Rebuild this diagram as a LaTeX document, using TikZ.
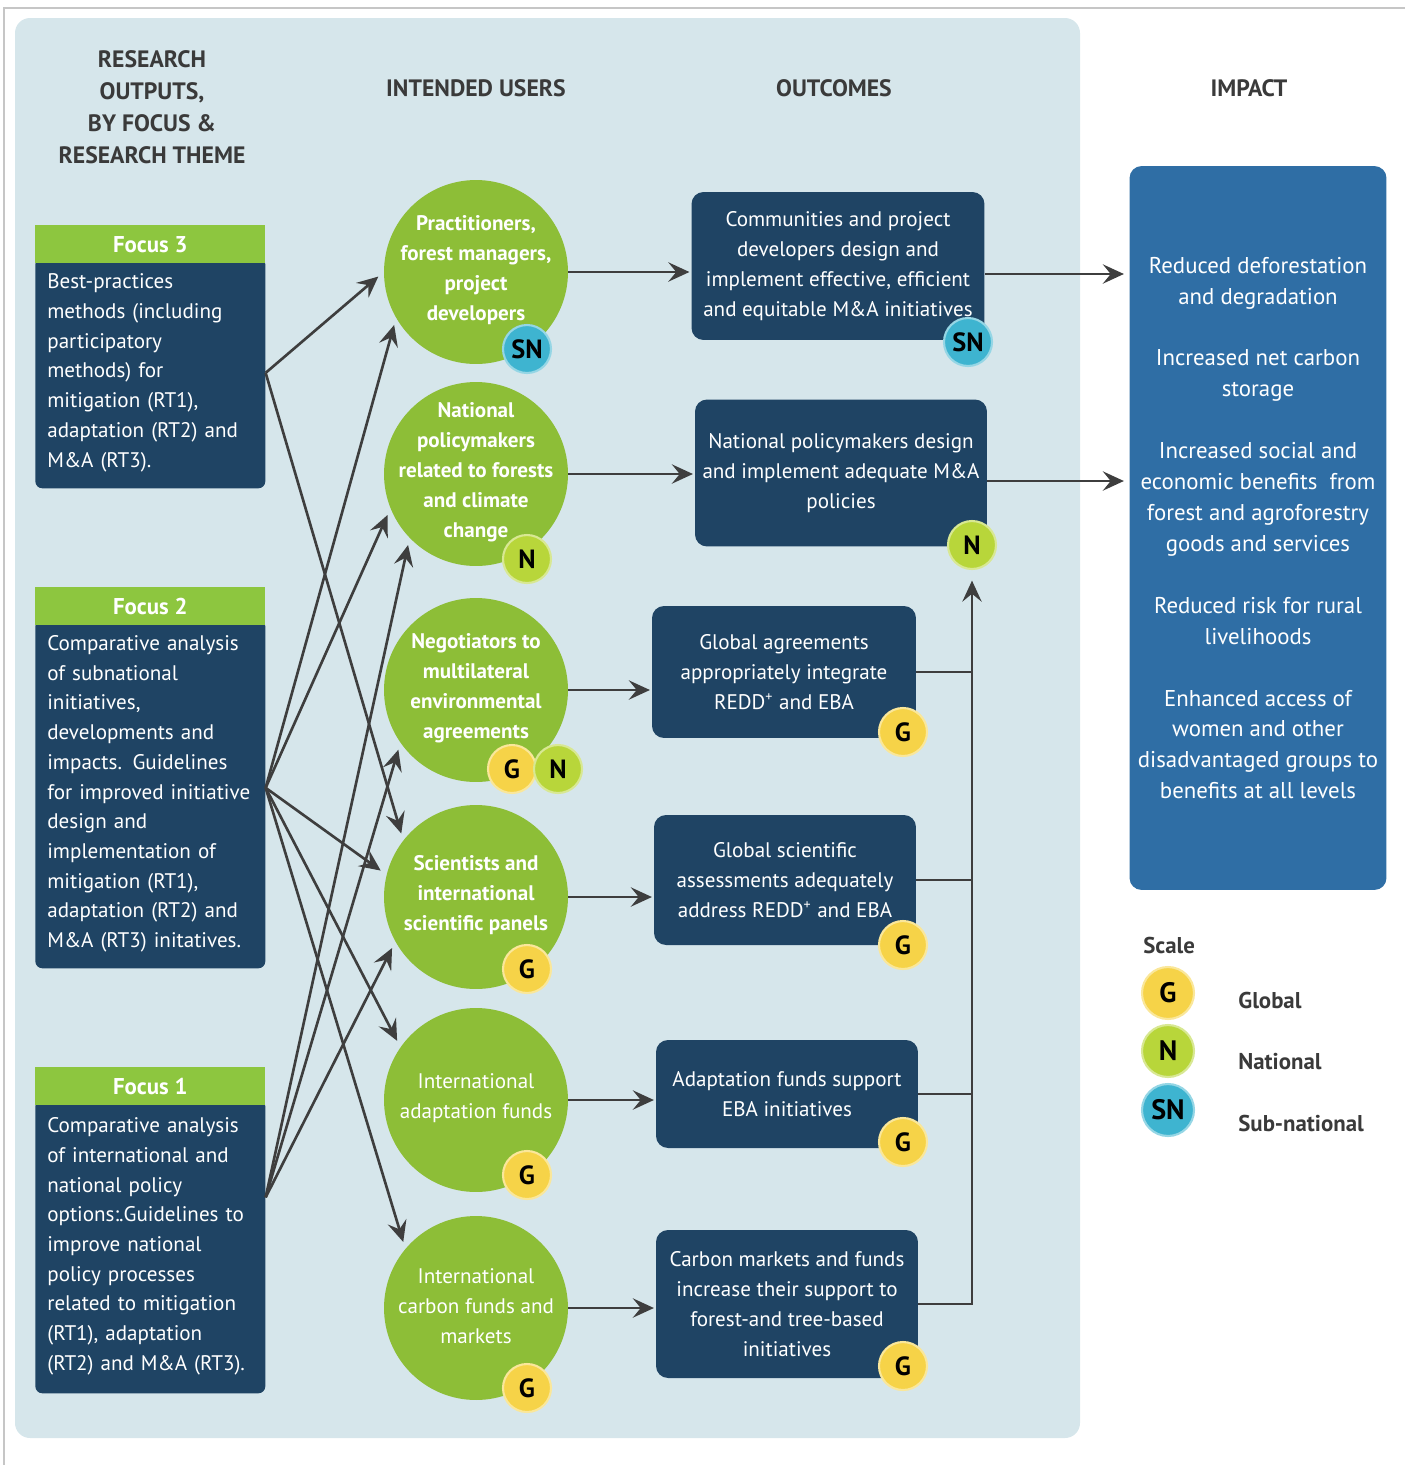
\documentclass[tikz,border=0pt]{standalone}
\usepackage{fontspec}
\setmainfont{PT Sans}
\usetikzlibrary{arrows.meta,positioning}

\definecolor{panel}{RGB}{214,230,235}
\definecolor{navy}{RGB}{31,68,100}
\definecolor{leaf}{RGB}{141,198,63}
\definecolor{usergreen}{RGB}{141,190,55}
\definecolor{impblue}{RGB}{47,110,165}
\definecolor{scaleG}{RGB}{246,211,72}
\definecolor{scaleN}{RGB}{184,214,58}
\definecolor{scaleSN}{RGB}{62,180,208}
\definecolor{inkgray}{RGB}{58,58,58}
\definecolor{arrowgray}{RGB}{62,62,62}

\newcommand{\usrfont}{\fontsize{12}{17}\selectfont}

\begin{document}
\begin{tikzpicture}[x=0.02cm, y=-0.02cm, >={Stealth[length=12pt,width=11pt,inset=4.5pt]}]
    \tikzstyle{heading}=[font=\fontsize{13.5}{18.2}\selectfont\bfseries, text=inkgray, align=center, inner sep=0pt]
    \tikzstyle{focus head}=[rectangle, fill=leaf, anchor=north west, minimum width=4.6cm, minimum height=0.76cm, inner sep=0pt, text=white, font=\fontsize{13}{15}\selectfont\bfseries]
    \tikzstyle{focus body}=[rectangle, rounded corners=0.14cm, fill=navy, anchor=north west, text width=4.12cm, inner xsep=0.24cm, inner ysep=0pt, align=left, text=white, font=\fontsize{12}{16.9}\selectfont]
    \tikzstyle{user}=[circle, fill=usergreen, minimum size=3.68cm, inner sep=0pt]
    \tikzstyle{user text}=[align=center, text=white, inner sep=0pt]
    \tikzstyle{outcome}=[rectangle, rounded corners=0.24cm, fill=navy, align=center, text=white, inner sep=0pt, font=\fontsize{12}{17}\selectfont]
    \tikzstyle{impact}=[rectangle, rounded corners=0.24cm, fill=impblue, align=center, text=white, inner sep=0pt, minimum width=5.14cm, minimum height=14.48cm, font=\fontsize{13}{17.6}\selectfont]
    \tikzstyle{badge}=[circle, minimum size=0.96cm, inner sep=0pt, line width=1.2pt, font=\fontsize{15}{15}\selectfont\bfseries, text=black]
    \tikzstyle{badge G}=[badge, fill=scaleG, draw=scaleG!55!white]
    \tikzstyle{badge N}=[badge, fill=scaleN, draw=scaleN!55!white]
    \tikzstyle{badge SN}=[badge, fill=scaleSN, draw=scaleSN!55!white]
    \tikzstyle{legend}=[anchor=west, inner sep=0pt, text=inkgray, font=\fontsize{13}{15}\selectfont\bfseries]
    \tikzstyle{link}=[->, draw=arrowgray, line width=1.5pt, shorten >=4pt]
    \tikzstyle{bus}=[draw=arrowgray, line width=1.2pt]

    \useasboundingbox (0,0) rectangle (1405,1465);
    \draw[gray!45, line width=0.8pt] (4,1465) |- (1405,8);
    \fill[panel, rounded corners=0.3cm] (15,18) rectangle (1080,1438);

    % Column headings
    \node[heading] (h-out) at (152,107) {RESEARCH\\ OUTPUTS,\\ BY FOCUS \&\\ RESEARCH THEME};
    \node[heading] (h-users) at (476,88) {INTENDED USERS};
    \node[heading] (h-outc) at (834,88) {OUTCOMES};
    \node[heading] (h-imp) at (1249,88) {IMPACT};

    % Research outputs by focus
    \node[focus body, minimum height=4.62cm] (F-3) at (35,257)
        {Best-practices\\ methods (including\\ participatory\\ methods) for\\ mitigation (RT1),\\ adaptation (RT2) and\\ M\&A (RT3).};
    \node[focus head] (F-3h) at (35,225) {Focus 3};
    \node[focus body, minimum height=6.98cm] (F-2) at (35,619)
        {Comparative analysis\\ of subnational\\ initiatives,\\ developments and\\ impacts. Guidelines\\ for improved initiative\\ design and\\ implementation of\\ mitigation (RT1),\\ adaptation (RT2) and\\ M\&A (RT3) initatives.};
    \node[focus head] (F-2h) at (35,587) {Focus 2};
    \node[focus body, minimum height=5.88cm] (F-1) at (35,1099)
        {Comparative analysis\\ of international and\\ national policy\\ options:.Guidelines to\\ improve national\\ policy processes\\ related to mitigation\\ (RT1), adaptation\\ (RT2) and M\&A (RT3).};
    \node[focus head] (F-1h) at (35,1067) {Focus 1};

    \coordinate (F-3o) at (F-3.east);
    \coordinate (F-2o) at ([yshift=0.12cm]F-2.east);
    \coordinate (F-1o) at ([yshift=0.98cm]F-1.east);

    % Intended users
    \foreach \name/\y/\wt/\txt in {
        1/272/\bfseries/{Practitioners,\\ forest managers,\\ project\\ developers},
        2/474/\bfseries/{National\\ policymakers\\ related to forests\\ and climate\\ change},
        3/690/\bfseries/{Negotiators to\\ multilateral\\ environmental\\ agreements},
        4/897/\bfseries/{Scientists and\\ international\\ scientific panels},
        5/1100/\mdseries/{International\\ adaptation funds},
        6/1308/\mdseries/{International\\ carbon funds and\\ markets}}
    {
        \node[user] (U-\name) at (476,\y) {};
        \node[user text, font=\usrfont\wt] (U-\name-t) at ([yshift=0.04cm]U-\name) {\txt};
    }

    \node[badge SN] (U-1s) at (527,349) {SN};
    \node[badge N] (U-2n) at (527,559) {N};
    \node[badge G] (U-3g) at (512,769) {G};
    \node[badge N] (U-3n) at (558,769) {N};
    \node[badge G] (U-4g) at (527,969) {G};
    \node[badge G] (U-5g) at (527,1175) {G};
    \node[badge G] (U-6g) at (527,1388) {G};

    % Outcomes
    \node[outcome, minimum width=5.86cm, minimum height=2.96cm] (O-1) at (838,266)
        {Communities and project\\ developers design and\\ implement effective, efficient\\ and equitable M\&A initiatives};
    \node[outcome, minimum width=5.84cm, minimum height=2.94cm] (O-2) at (841,473)
        {National policymakers design\\ and implement adequate M\&A\\ policies};
    \node[outcome, minimum width=5.28cm, minimum height=2.64cm] (O-3) at (784,672)
        {Global agreements\\ appropriately integrate\\ REDD\textsuperscript{+} and EBA};
    \node[outcome, minimum width=5.24cm, minimum height=2.6cm] (O-4) at (785,880)
        {Global scientific\\ assessments adequately\\ address REDD\textsuperscript{+} and EBA};
    \node[outcome, minimum width=5.24cm, minimum height=2.16cm] (O-5) at (787,1094)
        {Adaptation funds support\\ EBA initiatives};
    \node[outcome, minimum width=5.24cm, minimum height=2.96cm] (O-6) at (787,1304)
        {Carbon markets and funds\\ increase their support to\\ forest-and tree-based\\ initiatives};

    \node[badge SN] (O-1s) at (968,342) {SN};
    \node[badge N] (O-2n) at (972,545) {N};
    \node[badge G] (O-3g) at (903,732) {G};
    \node[badge G] (O-4g) at (903,945) {G};
    \node[badge G] (O-5g) at (903,1142) {G};
    \node[badge G] (O-6g) at (903,1366) {G};

    % Impact
    \node[impact] (Imp) at (1258,528)
        {Reduced deforestation\\ and degradation\\[17.6pt]
         Increased net carbon\\ storage\\[17.6pt]
         Increased social and\\ economic benefits\ \ from\\ forest and agroforestry\\ goods and services\\[17.6pt]
         Reduced risk for rural\\ livelihoods\\[17.6pt]
         Enhanced access of\\ women and other\\ disadvantaged groups to\\ benefits at all levels};

    % Scale legend
    \node[legend] (L-t) at (1143,945) {Scale};
    \node[badge G, minimum size=1.04cm, font=\fontsize{16}{16}\selectfont\bfseries] (L-g) at (1168,993) {G};
    \node[badge N, minimum size=1.04cm, font=\fontsize{16}{16}\selectfont\bfseries] (L-n) at (1168,1051) {N};
    \node[badge SN, minimum size=1.04cm, font=\fontsize{16}{16}\selectfont\bfseries] (L-sn) at (1168,1110) {SN};
    \node[legend] (L-gt) at (1238,1000) {Global};
    \node[legend] (L-nt) at (1238,1062) {National};
    \node[legend] (L-snt) at (1238,1123) {Sub-national};

    % Research outputs feed the intended users
    \foreach \source/\dest in {F-3o/U-1.180, F-3o/U-4.142,
                               F-2o/U-1.210, F-2o/U-2.202, F-2o/U-4.166, F-2o/U-5.145, F-2o/U-6.140,
                               F-1o/U-2.224, F-1o/U-3.215, F-1o/U-4.209}
        \draw[link] (\source) -- (\dest);

    % Users lead to outcomes
    \foreach \i in {1,...,6}
        \draw[link, shorten >=1pt] (U-\i.east) -- (U-\i.east -| O-\i.west);

    % Outcomes lead to impact
    \foreach \i in {1,2}
        \draw[link, shorten >=3pt] ([yshift=-0.16cm]O-\i.east) -- ([yshift=-0.16cm]O-\i.east -| Imp.west);

    % Global outcomes feed national policy
    \draw[link, line width=1.2pt, shorten >=6pt] (O-6.east) -| (O-2n);
    \foreach \i in {3,4,5}
        \draw[bus] (O-\i.east) -- (O-\i.east -| O-2n);
\end{tikzpicture}
\end{document}
